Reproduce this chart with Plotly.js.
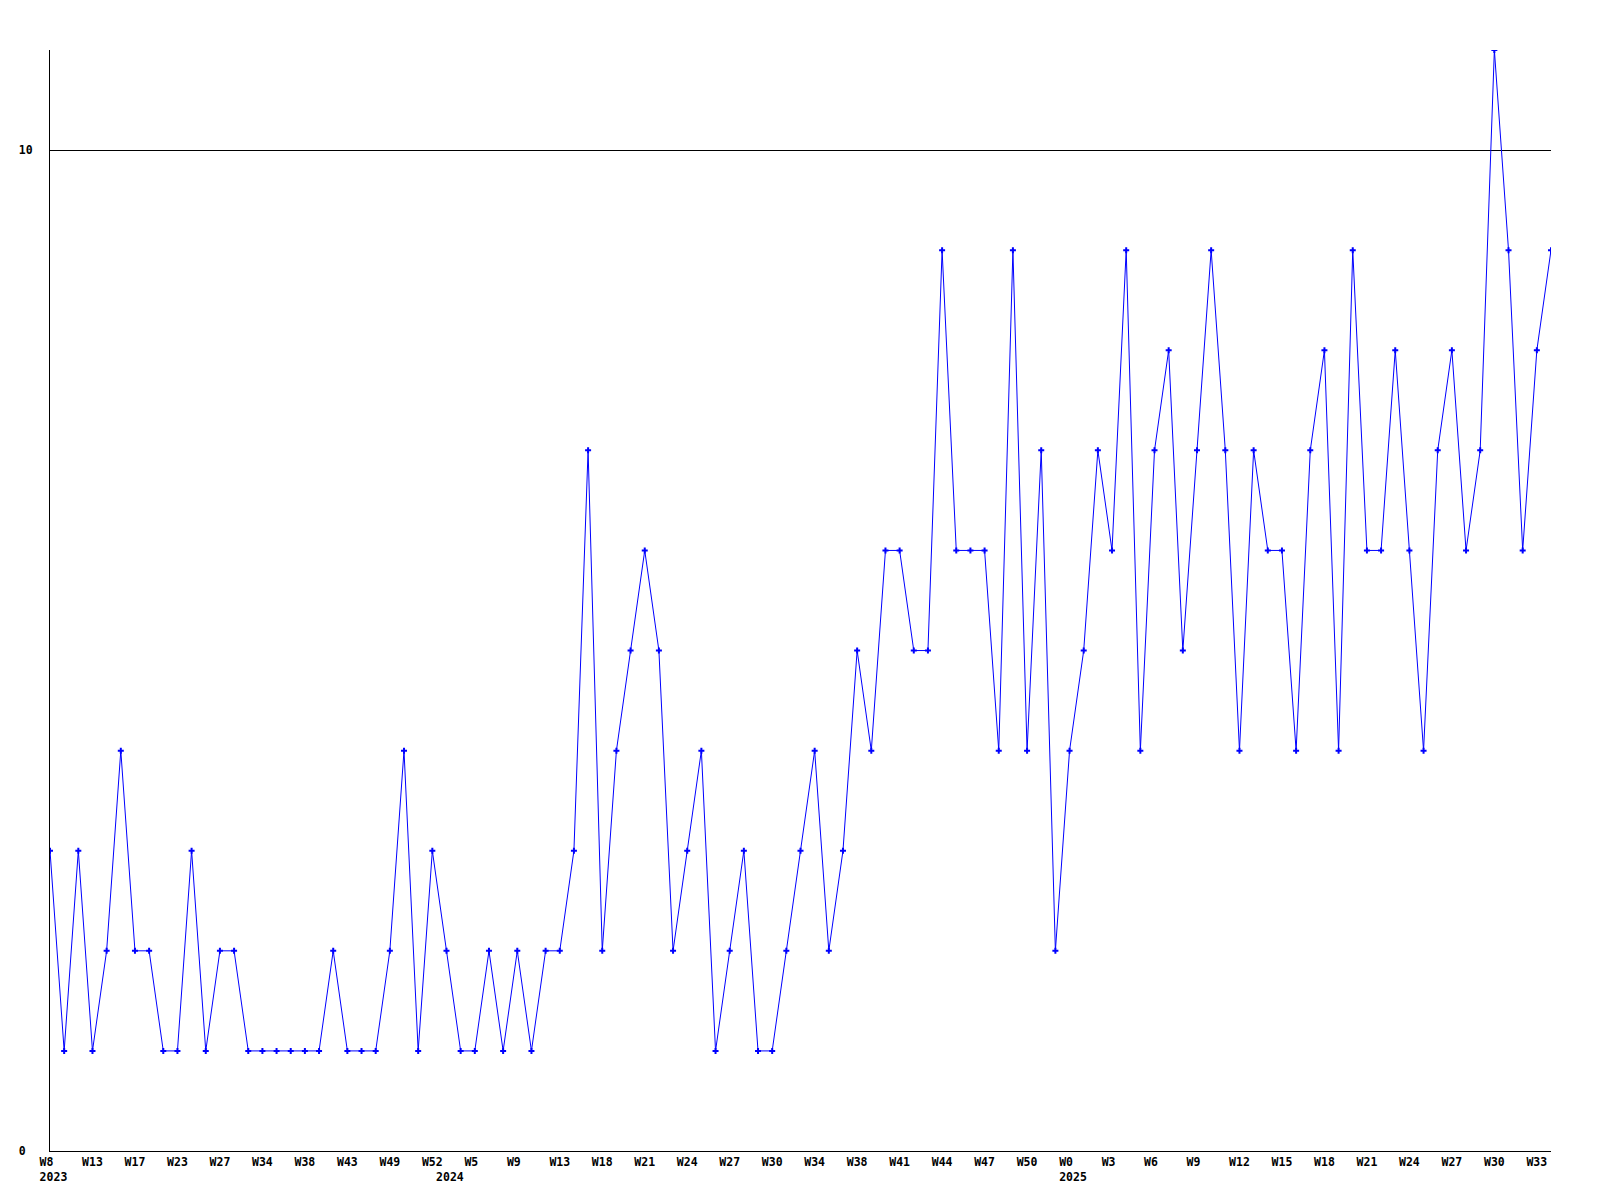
<!DOCTYPE html>
<html>
<head>
<meta charset="utf-8">
<script src="https://cdn.plot.ly/plotly-3.0.1.min.js"></script>
<style>html,body{margin:0;padding:0;background:#fff;}#chart{width:1600px;height:1200px;}</style>
</head>
<body>
<div id="chart"></div>
<script>
// Weekly values, one per plotted point (left to right)
var values = [3,1,3,1,2,4,2,2,1,1,
              3,1,2,2,1,1,1,1,1,1,
              2,1,1,1,2,4,1,3,2,1,
              1,2,1,2,1,2,2,3,7,2,
              4,5,6,5,2,3,4,1,2,3,
              1,1,2,3,4,2,3,5,4,6,
              6,5,5,9,6,6,6,4,9,4,
              7,2,4,5,7,6,9,4,7,8,
              5,7,9,7,4,7,6,6,4,7,
              8,4,9,6,6,8,6,4,7,8,
              6,7,11,9,6,8,9];

// Week tick labels, shown on every third point
var weekLabels = ["W8","W13","W17","W23","W27","W34","W38","W43","W49","W52",
                  "W5","W9","W13","W18","W21","W24","W27","W30","W34","W38",
                  "W41","W44","W47","W50","W0","W3","W6","W9","W12","W15",
                  "W18","W21","W24","W27","W30","W33"];
var labelStep = 3;

// Year labels and the point index where each year starts
var yearLabels = ["2023","2024","2025"];
var yearStartIdx = [0,28,72];

var yTickVals = [0,10];
var yTickText = ["0\u00a0","10"];

var xs = values.map(function(v,i){return i;});

// monospace padding so that centred labels start at a fixed offset left of the point (left aligned look)
function leftAlign(s){
  var NB = "\u00a0", n = s.length, out = s, k;
  if (n < 3) { for (k = n; k < 3; k++) out += NB; }
  else if (n > 3) { for (k = 3; k < n; k++) out = NB + out; }
  return out;
}

var tickMap = {};
weekLabels.forEach(function(w,k){ tickMap[k*labelStep] = leftAlign(w); });
yearLabels.forEach(function(y,k){
  var idx = yearStartIdx[k];
  tickMap[idx] = (tickMap[idx] !== undefined ? tickMap[idx] : "\u00a0") + "<br>" + leftAlign(y);
});
var tickVals = Object.keys(tickMap).map(Number).sort(function(a,b){return a-b;});
var tickText = tickVals.map(function(v){return tickMap[v];});

var font = {family:"DejaVu Sans Mono, monospace", size:11.5, color:"#000", weight:"bold"};

var trace = {
  x: xs, y: values, type:"scatter", mode:"lines+markers",
  line:{color:"#0000ff", width:1},
  marker:{symbol:"cross", size:5, color:"#0000ff"},
  hoverinfo:"x+y"
};

var layout = {
  width:1600, height:1200,
  margin:{l:50, r:49, t:50, b:49, pad:0},
  paper_bgcolor:"#fff", plot_bgcolor:"#fff",
  showlegend:false,
  xaxis:{range:[0,values.length-1], tickmode:"array", tickvals:tickVals, ticktext:tickText,
         showgrid:false, zeroline:false, showline:true, linecolor:"#000", linewidth:1,
         ticks:"", tickfont:font, tickangle:0, ticklabelstandoff:0, fixedrange:true},
  yaxis:{range:[0,11], tickmode:"array", tickvals:yTickVals, ticktext:yTickText,
         showgrid:true, gridcolor:"#000", gridwidth:1, zeroline:false,
         showline:true, linecolor:"#000", linewidth:1, ticks:"", tickfont:font,
         ticklabelstandoff:14, fixedrange:true}
};

Plotly.newPlot("chart", [trace], layout, {displayModeBar:false, staticPlot:true});
</script>
</body>
</html>
